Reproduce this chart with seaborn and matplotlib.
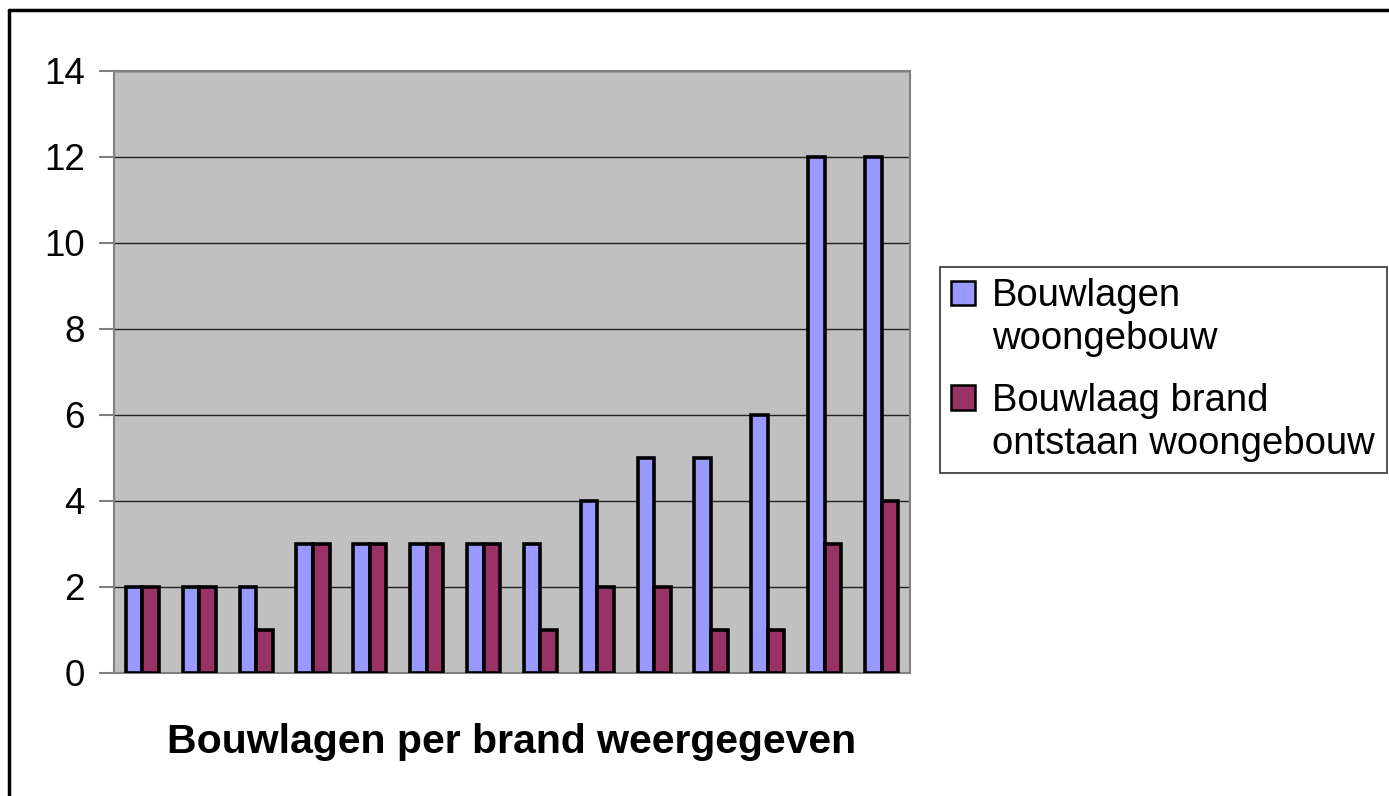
import matplotlib
matplotlib.use("Agg")
import matplotlib.pyplot as plt
import seaborn as sns
import pandas as pd
from matplotlib.lines import Line2D
from matplotlib.patches import Rectangle
from matplotlib.legend_handler import HandlerBase

categories = [str(i) for i in range(1, 15)]
series_names = ["Bouwlagen\nwoongebouw", "Bouwlaag brand\nontstaan woongebouw"]
bouwlagen = [2, 2, 2, 3, 3, 3, 3, 3, 4, 5, 5, 6, 12, 12]
brand = [2, 2, 1, 3, 3, 3, 3, 1, 2, 2, 1, 1, 3, 4]
yticks = [0, 2, 4, 6, 8, 10, 12, 14]
xlabel = "Bouwlagen per brand weergegeven"
colors = ["#9999FF", "#993366"]

df = pd.DataFrame({
    "cat": categories * 2,
    "value": bouwlagen + brand,
    "series": [series_names[0]] * len(categories) + [series_names[1]] * len(categories),
})

sns.set_theme(style="white")
plt.rcParams["font.family"] = ["Liberation Sans", "DejaVu Sans"]
plt.rcParams["text.color"] = "black"
plt.rcParams["axes.labelcolor"] = "black"
plt.rcParams["ytick.color"] = "black"
plt.rcParams["xtick.color"] = "black"

W, H = 1389, 796
fig = plt.figure(figsize=(W / 100, H / 100), dpi=100)
ax = fig.add_axes([114 / W, 1 - 673 / H, (910 - 114) / W, (673 - 71) / H])
ax.set_facecolor("#C0C0C0")

sns.barplot(data=df, x="cat", y="value", hue="series", order=categories,
            hue_order=series_names, palette=colors, saturation=1,
            edgecolor="black", linewidth=2.6, width=0.585, ax=ax,
            legend=True, zorder=3)

ax.set_ylim(0, 14)
ax.set_xlim(-0.5, len(categories) - 0.5)
ax.set_yticks(yticks)
ax.set_yticklabels([str(v) for v in yticks], fontsize=26.5, color="black")
ax.set_xticks([])
ax.grid(axis="y", color="#222222", linewidth=1.0, zorder=1)
ax.set_axisbelow(True)
for s in ax.spines.values():
    s.set_color("#808080")
    s.set_linewidth(1.5)
ax.tick_params(axis="y", which="major", left=True, length=11, width=1.5,
               color="#808080", labelcolor="black", pad=10)
ax.set_xlabel(xlabel, fontsize=29.5, fontweight="bold", labelpad=36, color="black")
ax.set_ylabel("")

ax.get_legend().remove()


class UpHandler(HandlerBase):
    def create_artists(self, legend, orig_handle, xdescent, ydescent, width,
                       height, fontsize, trans):
        shift = 0.66 * fontsize
        r = Rectangle((-xdescent, -ydescent + shift), width, height,
                      facecolor=orig_handle.get_facecolor(), edgecolor="black",
                      linewidth=1.8, transform=trans)
        return [r]


handles = [Rectangle((0, 0), 1, 1, facecolor=c, edgecolor="black") for c in colors]
leg = fig.legend(handles, series_names, loc="center left",
                 bbox_to_anchor=(940 / W, 1 - 370 / H), fontsize=27.5,
                 frameon=True, fancybox=False, edgecolor="black",
                 handlelength=0.62, handleheight=0.62, handletextpad=0.45,
                 labelspacing=0.7, borderpad=0.3, borderaxespad=0,
                 handler_map={Rectangle: UpHandler()})
leg.get_frame().set_linewidth(1.2)
for t in leg.get_texts():
    t.set_color("black")
    t.set_linespacing(1.22)

# figure frame (top and left visible)
fig.add_artist(Line2D([9 / W, 1], [1 - 10 / H, 1 - 10 / H], color="black", linewidth=2.5, transform=fig.transFigure))
fig.add_artist(Line2D([9 / W, 9 / W], [0, 1 - 10 / H], color="black", linewidth=2.5, transform=fig.transFigure))

fig.savefig("out.png", dpi=100)
